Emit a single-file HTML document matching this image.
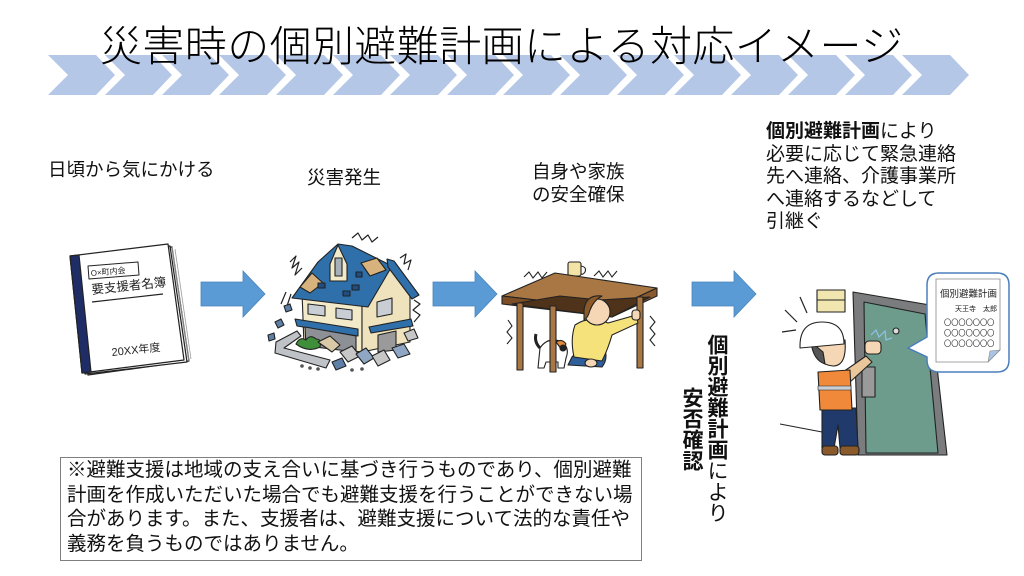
<!DOCTYPE html>
<html lang="ja">
<head>
<meta charset="utf-8">
<style>
  html,body{margin:0;padding:0;background:#fff;}
  body{width:1024px;height:576px;position:relative;overflow:hidden;
       font-family:"Liberation Sans","Noto Sans CJK JP",sans-serif;color:#111;}
  .t{position:absolute;white-space:nowrap;font-family:"Liberation Sans","Noto Sans CJK JP",sans-serif;}
  svg{position:absolute;left:0;top:0;}
</style>
</head>
<body>
<svg width="1024" height="576" viewBox="0 0 1024 576" xmlns="http://www.w3.org/2000/svg">
  <!-- chevrons -->
  <g fill="#B4C7E7">
    <polygon points="48,55 96,55 115,75 96,95 48,95 68,75"/>
    <polygon points="105,55 153,55 172,75 153,95 105,95 125,75"/>
    <polygon points="162,55 210,55 229,75 210,95 162,95 182,75"/>
    <polygon points="219,55 267,55 286,75 267,95 219,95 239,75"/>
    <polygon points="276,55 324,55 343,75 324,95 276,95 296,75"/>
    <polygon points="333,55 381,55 400,75 381,95 333,95 353,75"/>
    <polygon points="390,55 438,55 457,75 438,95 390,95 410,75"/>
    <polygon points="447,55 495,55 514,75 495,95 447,95 467,75"/>
    <polygon points="503,55 551,55 570,75 551,95 503,95 523,75"/>
    <polygon points="560,55 608,55 627,75 608,95 560,95 580,75"/>
    <polygon points="617,55 665,55 684,75 665,95 617,95 637,75"/>
    <polygon points="674,55 722,55 741,75 722,95 674,95 694,75"/>
    <polygon points="731,55 779,55 798,75 779,95 731,95 751,75"/>
    <polygon points="788,55 836,55 855,75 836,95 788,95 808,75"/>
    <polygon points="845,55 893,55 912,75 893,95 845,95 865,75"/>
    <polygon points="902,55 950,55 969,75 950,95 902,95 922,75"/>
  </g>

  <!-- arrows -->
  <g fill="#5B9BD5" stroke="#4A84BC" stroke-width="0.8">
    <polygon points="201,282 243,282 243,271 265,294 243,317 243,306 201,306"/>
    <polygon points="433,282 475,282 475,271 497,294 475,317 475,306 433,306"/>
    <polygon points="692,282 734,282 734,271 756,294 734,317 734,306 692,306"/>
  </g>

  <!-- BOOK -->
  <g stroke="#222" stroke-width="1.2" stroke-linejoin="round">
    <polygon points="74,258 172,247 189,361 88,375" fill="#f4f4f4"/>
    <polygon points="72,257 170,246 187,362 85,374" fill="#fafafa"/>
    <polygon points="70,256 168,244 184,360 82,373" fill="#fff"/>
    <polygon points="70,256 79,255 91,372 82,373" fill="#1F2D66"/>
    <polygon points="88,266 138,262 139,275 89,279" fill="#fff" stroke-width="1"/>
    <line x1="92" y1="302" x2="163" y2="294" stroke-width="1.2"/>
  </g>
  <g stroke="#999" stroke-width="0.8" fill="none">
    <line x1="172" y1="247" x2="189" y2="361"/>
    <line x1="175" y1="249" x2="191" y2="359"/>
  </g>
  <text x="91" y="276" font-size="8" font-family="Liberation Sans,Noto Sans CJK JP,sans-serif" fill="#222" transform="rotate(-5 91 276)">O×町内会</text>
  <text x="92" y="294" font-size="12.5" font-family="Liberation Sans,Noto Sans CJK JP,sans-serif" fill="#222" transform="rotate(-6 92 294)">要支援者名簿</text>
  <text x="112" y="356" font-size="11" font-family="Liberation Sans,Noto Sans CJK JP,sans-serif" fill="#222" transform="rotate(-6 112 356)">20XX年度</text>

  <!-- HOUSE -->
  <g stroke="#222" stroke-width="1.2" stroke-linejoin="round" fill="none">
    <polyline points="290,262 296,256 292,268 299,262 295,275 302,268"/>
    <polyline points="352,238 358,233 362,240 368,235 372,242 378,237"/>
    <polyline points="400,258 406,254 404,264 411,260 408,270"/>
    <polyline points="414,300 420,304 413,310 420,315 414,322"/>
    <line x1="286" y1="292" x2="281" y2="304"/>
    <line x1="291" y1="294" x2="287" y2="306"/>
  </g>
  <g stroke="#222" stroke-width="1.1" stroke-linejoin="round">
    <polygon points="302,292 362,302 362,352 304,345" fill="#F3EAC9"/>
    <polygon points="362,302 388,264 410,292 410,342 362,352" fill="#EFE3BD"/>
    <polygon points="292,298 318,262 338,244 352,246 392,266 368,307" fill="#2F70AA"/>
    <polygon points="387,259 394,261 419,295 412,299 388,267" fill="#2F70AA"/>
    <polygon points="300,287 312,273 323,283 310,293" fill="#D8B27C"/>
    <polygon points="361,263 377,258 386,270 370,276" fill="#D8B27C"/>
    <polygon points="330,264 338,245 347,264 347,281 330,281" fill="#F3EAC9"/>
    <rect x="335" y="258" width="7" height="18" fill="#A6B0B8"/>
    <rect x="318" y="283" width="7" height="5" fill="#1F4F82"/>
    <rect x="352" y="285" width="7" height="5" fill="#1F4F82"/>
    <rect x="356" y="272" width="6" height="5" fill="#1F4F82"/>
    <rect x="343" y="291" width="7" height="5" fill="#1F4F82"/>
    <polygon points="308,304 325,306 325,316 308,314" fill="#C9CED4"/>
    <polygon points="336,308 352,310 352,320 336,318" fill="#C9CED4"/>
    <polygon points="377,302 392,298 392,314 377,317" fill="#C9CED4"/>
    <polygon points="295,319 358,329 358,336 297,326" fill="#2F70AA"/>
    <polygon points="369,327 411,319 413,326 371,333" fill="#2F70AA"/>
    <polygon points="305,327 356,336 356,352 306,346" fill="#8D9095"/>
    <polygon points="378,335 396,331 396,350 378,352" fill="#9A9A9A"/>
    <polygon points="276,342 297,331 301,336 284,348 330,360 326,368 275,353" fill="#BFC3C8"/>
    <path d="M296,344 q4,-8 10,-4 q4,-6 10,-1 q6,0 4,8 q-12,6 -24,-3z" fill="#3E8E3A"/>
    <polygon points="318,342 330,336 340,345 332,352" fill="#D9C9A6"/>
    <polygon points="340,352 352,346 360,356 348,362" fill="#C7C7C7"/>
    <polygon points="356,354 366,348 374,358 364,364" fill="#8FA7C4"/>
    <polygon points="372,356 384,350 390,360 378,366" fill="#C7C7C7"/>
    <polygon points="392,348 404,344 410,354 398,358" fill="#8FA7C4"/>
    <polygon points="332,362 342,358 346,366 336,370" fill="#5E7FA8"/>
    <polygon points="404,333 414,329 418,338 408,341" fill="#C7C7C7"/>
    <polygon points="275,322 281,319 284,325 278,328" fill="#5E7FA8"/>
    <polygon points="284,306 290,304 292,310 286,312" fill="#5E7FA8"/>
    <polygon points="268,335 274,333 275,339 269,341" fill="#5E7FA8"/>
  </g>
  <g fill="#555">
    <circle cx="302" cy="366" r="1.8"/><circle cx="310" cy="368" r="1.8"/><circle cx="318" cy="369" r="1.8"/>
    <circle cx="352" cy="370" r="1.8"/><circle cx="362" cy="369" r="1.8"/>
  </g>

  <!-- TABLE + WOMAN + CAT -->
  <g stroke="#222" stroke-width="1.1" fill="none">
    <polyline points="524,277 529,272 533,278 538,272 542,278 547,272"/>
    <polyline points="594,276 599,271 603,277 608,271 612,277 617,271"/>
    <polyline points="508,320 512,326 507,332 512,338 507,344"/>
    <polyline points="650,316 655,322 650,328 655,334 650,340 655,346"/>
  </g>
  <g stroke="#222" stroke-width="1.1" stroke-linejoin="round">
    <rect x="568" y="262" width="13" height="14" rx="2" fill="#F3E3A6"/>
    <path d="M581,266 q6,1 4,6 q-2,3 -4,2" fill="none"/>
    <polygon points="502,296 555,273 657,288 612,309" fill="#A87744"/>
    <polygon points="502,296 612,309 612,317 502,304" fill="#7B4E26"/>
    <polygon points="612,309 657,288 657,296 612,317" fill="#8A5A2E"/>
    <polygon points="512,304 612,317 650,297 600,300 560,296" fill="#4E3219"/>
    <rect x="517" y="303" width="6" height="67" fill="#A87744"/>
    <rect x="637" y="297" width="6" height="71" fill="#A87744"/>
    <!-- woman -->
    <path d="M602,343 q-20,2 -30,14 l-4,8 l34,2 q8,-10 0,-24z" fill="#2F5F9A"/>
    <path d="M575,325 q15,-10 33,-2 l28,-8 l2,8 l-26,12 q-4,14 -10,26 l-28,-4 q-4,-18 1,-32z" fill="#F6E27A"/>
    <circle cx="597" cy="312" r="13" fill="#F6D7B5"/>
    <path d="M584,310 q2,-16 18,-14 q-8,4 -12,14 q-2,8 -6,10z" fill="#8B5A2B"/>
    <ellipse cx="591" cy="363" rx="6" ry="4" fill="#F6D7B5"/>
    <rect x="632" y="310" width="8" height="10" rx="3" fill="#F6D7B5"/>
    <!-- cat -->
    <path d="M540,348 q8,-12 22,-6 q8,6 4,16 l-2,10 l-6,0 l0,-6 l-12,0 l-2,6 l-6,0z" fill="#fff"/>
    <path d="M540,348 q-6,-6 -4,-14" stroke-width="3" fill="none"/>
    <path d="M556,342 q6,-4 10,2 l-4,6z" fill="#E58A3A"/>
    <circle cx="563" cy="348" r="3" fill="#222"/>
    <rect x="550" y="306" width="6" height="66" fill="#A87744"/>
  </g>

  <!-- DOOR + MAN -->
  <g stroke="#222" stroke-width="1.1" stroke-linejoin="round">
    <rect x="817" y="290" width="28" height="22" fill="#F2E6B0"/>
    <line x1="817" y1="300" x2="845" y2="300"/>
    <polygon points="853,292 930,305 947,455 858,455" fill="#7A7C7E"/>
    <polygon points="864,302 925,314 938,453 866,453" fill="#6E9C8C"/>
    <circle cx="896" cy="331" r="3" fill="#ddd"/>
    <rect x="862" y="367" width="13" height="30" fill="#9A9A9A"/>
    <line x1="780" y1="424" x2="822" y2="432"/>
    <!-- man -->
    <polygon points="822,408 856,408 858,448 840,448 838,425 834,448 822,448" fill="#1F3A6B"/>
    <rect x="822" y="446" width="16" height="9" rx="3" fill="#8A5A2B"/>
    <rect x="840" y="446" width="19" height="9" rx="3" fill="#8A5A2B"/>
    <polygon points="843,372 866,356 872,362 850,382" fill="#E9C79A"/>
    <polygon points="818,372 850,370 852,410 820,410" fill="#F08A3A"/>
    <rect x="818" y="386" width="33" height="4" fill="#C9CED4" stroke-width="0.6"/>
    <path d="M811,338 q2,26 22,28 q14,0 12,-26z" fill="#F6D7B5"/>
    <path d="M811,342 q2,18 14,22 l-2,-12z" fill="#555"/>
    <path d="M800,346 q0,-24 22,-24 q22,0 22,22 l-44,4z" fill="#fff"/>
    <rect x="865" y="341" width="16" height="13" rx="4" fill="#F6D7B5"/>
  </g>
  <g stroke="#222" stroke-width="1.2" fill="none">
    <line x1="782" y1="332" x2="796" y2="330"/>
    <line x1="785" y1="310" x2="797" y2="322"/>
    <line x1="800" y1="297" x2="807" y2="313"/>
  </g>
  <polyline points="871,335 876,330 879,337 885,331 886,340 892,338" stroke="#8FC3E8" stroke-width="1.2" fill="none"/>

  <!-- speech bubble -->
  <path d="M939,273 H997 Q1009,273 1009,285 V360 Q1009,372 997,372 H939 Q927,372 927,360 V357 L908,348 L927,337 V285 Q927,273 939,273 Z"
        fill="#fff" stroke="#4A7EBB" stroke-width="1.5"/>
  <polygon points="936,279 1000,279 1000,350 988,362 936,362" fill="#fff" stroke="#888" stroke-width="0.8"/>
  <polygon points="1000,350 988,362 990,351" fill="#A9C4E4" stroke="#888" stroke-width="0.6"/>
  <text x="940" y="297" font-size="9.5" font-family="Noto Sans CJK JP,sans-serif" fill="#222">個別避難計画</text>
  <text x="997" y="311" font-size="7" text-anchor="end" font-family="Noto Sans CJK JP,sans-serif" fill="#222">天王寺　太郎</text>
  <text x="944" y="325" font-size="7.2" font-family="Noto Sans CJK JP,sans-serif" fill="#222">〇〇〇〇〇〇〇</text>
  <text x="944" y="335.5" font-size="7.2" font-family="Noto Sans CJK JP,sans-serif" fill="#222">〇〇〇〇〇〇〇</text>
  <text x="944" y="346" font-size="7.2" font-family="Noto Sans CJK JP,sans-serif" fill="#222">〇〇〇〇〇〇〇</text>
</svg>

<!-- Title -->
<div class="t" style="left:100px;top:26px;font-size:42px;line-height:42px;font-weight:300;letter-spacing:0.4px;color:#000;">災害時の個別避難計画による対応イメージ</div>

<!-- labels -->
<div class="t" style="left:48px;top:161px;font-size:18.5px;line-height:18.5px;">日頃から気にかける</div>
<div class="t" style="left:307px;top:169px;font-size:18.5px;line-height:18.5px;">災害発生</div>
<div class="t" style="left:532px;top:160px;font-size:18.5px;line-height:23px;">自身や家族<br>の安全確保</div>

<div class="t" style="left:766px;top:121px;font-size:19px;line-height:22.5px;"><b>個別避難計画</b>により<br>必要に応じて緊急連絡<br>先へ連絡、介護事業所<br>へ連絡するなどして<br>引継ぐ</div>

<!-- vertical text -->
<div class="t" style="left:706px;top:334px;font-size:21px;line-height:21px;width:21px;writing-mode:vertical-rl;"><b>個別避難計画</b>により</div>
<div class="t" style="left:681px;top:387px;font-size:21px;line-height:21px;width:21px;writing-mode:vertical-rl;"><b>安否確認</b></div>

<!-- bottom note box -->
<div style="position:absolute;left:60px;top:457px;width:580px;height:102px;border:1px solid #7F7F7F;"></div>
<div class="t" style="left:67px;top:458px;font-size:19.5px;line-height:24.6px;">※避難支援は地域の支え合いに基づき行うものであり、個別避難<br>計画を作成いただいた場合でも避難支援を行うことができない場<br>合があります。また、支援者は、避難支援について法的な責任や<br>義務を負うものではありません。</div>
</body>
</html>
